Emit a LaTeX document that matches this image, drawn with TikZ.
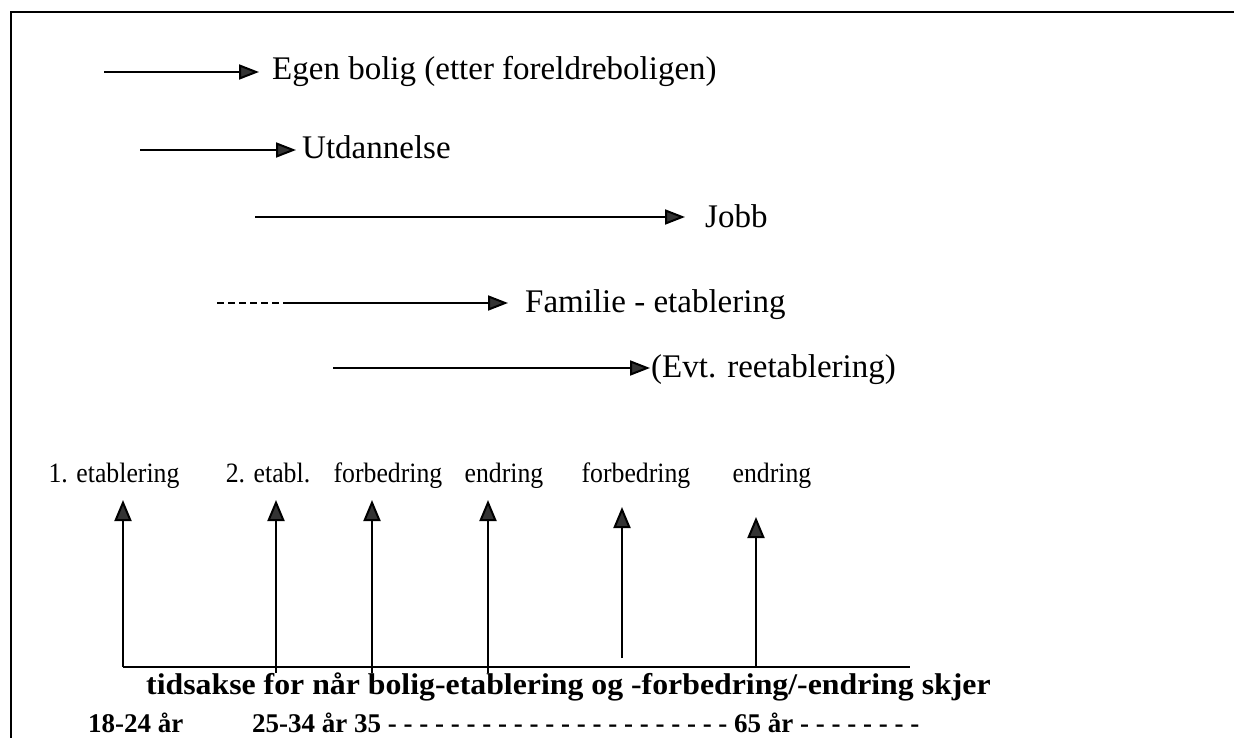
\documentclass[tikz,border=0pt]{standalone}
\usepackage{fontspec}
\setmainfont{Liberation Serif}
\newfontface\axisfont[FakeStretch=1.06]{Liberation Serif Bold}
\newfontface\labfont[FakeStretch=0.92]{Liberation Serif}
\usetikzlibrary{arrows.meta}
\begin{document}
\begin{tikzpicture}[x=1pt,y=-1pt,
  tip/.style={-{Triangle[length=20pt,width=15pt,fill=black!80]}},
  vtip/.style={-{Triangle[length=21pt,width=17pt,fill=black!80]}},
  hline/.style={line width=2pt},
  vline/.style={line width=2pt},
  toptext/.style={anchor=base west, inner sep=0pt, font=\fontsize{33}{38}\selectfont},
  lab/.style={anchor=base, inner sep=0pt, font=\fontsize{28}{32}\labfont},
  axistext/.style={anchor=base west, inner sep=0pt, font=\fontsize{30}{34}\axisfont},
  age/.style={anchor=base west, inner sep=0pt, font=\fontsize{27}{32}\selectfont\bfseries},
]
\useasboundingbox[fill=white] (0,0) rectangle (1234,738);
% frame
\coordinate (fr) at (1234,12);
\coordinate (fc) at (11,12);
\coordinate (fb) at (11,738);
\draw[line width=2.4pt] (fr) -- (fc) -- (fb);

% top arrows
\coordinate (s1) at (104,72);  \coordinate (e1) at (259,72);
\node[toptext] (t1) at (272,80) {Egen bolig (etter foreldreboligen)};
\draw[hline,tip] (s1) -- (e1);

\coordinate (s2) at (140,150); \coordinate (e2) at (296,150);
\node[toptext] (t2) at (302,159) {Utdannelse};
\draw[hline,tip] (s2) -- (e2);

\coordinate (s3) at (255,217); \coordinate (e3) at (685,217);
\node[toptext] (t3) at (705,227) {Jobb};
\draw[hline,tip] (s3) -- (e3);

\coordinate (s4) at (217,303); \coordinate (m4) at (288,303); \coordinate (e4) at (508,303);
\node[toptext] (t4) at (525,312) {Familie - etablering};
\draw[hline,dash pattern=on 7pt off 4pt] (s4) -- (m4);
\draw[hline,tip] (m4) -- (e4);

\coordinate (s5) at (333,368); \coordinate (e5) at (650,368);
\node[toptext] (t5) at (651,377) {(Evt. reetablering)};
\draw[hline,tip] (s5) -- (e5);

% labels
\node[lab] (l1) at (114,482) {1. etablering};
\node[lab] (l2) at (268,482) {2. etabl.};
\node[lab] (l3) at (388,482) {forbedring};
\node[lab] (l4) at (504,482) {endring};
\node[lab] (l5) at (636,482) {forbedring};
\node[lab] (l6) at (772,482) {endring};

% axis
\coordinate (a0) at (123,667);
\coordinate (a1) at (910,667);
\draw[line width=2.6pt] (a0) -- (a1);

% vertical arrows
\coordinate (b1) at (123,667); \coordinate (p1) at (123,500);
\coordinate (b2) at (276,673); \coordinate (p2) at (276,500);
\coordinate (b3) at (372,673); \coordinate (p3) at (372,500);
\coordinate (b4) at (488,673); \coordinate (p4) at (488,500);
\coordinate (b5) at (622,658); \coordinate (p5) at (622,507);
\coordinate (b6) at (756,667); \coordinate (p6) at (756,517);
\foreach \i in {1,...,6} {\draw[vline,vtip] (b\i) -- (p\i);}

% axis texts
\node[axistext] (ax) at (146,694) {tidsakse for når bolig-etablering og -forbedring/-endring skjer};
\node[age] (g1) at (88,732) {18-24 år};
\node[age] (g2) at (252,732) {25-34 år 35 - - - - - - - - - - - - - - - - - - - - - - 65 år - - - - - - - -};
\end{tikzpicture}
\end{document}
